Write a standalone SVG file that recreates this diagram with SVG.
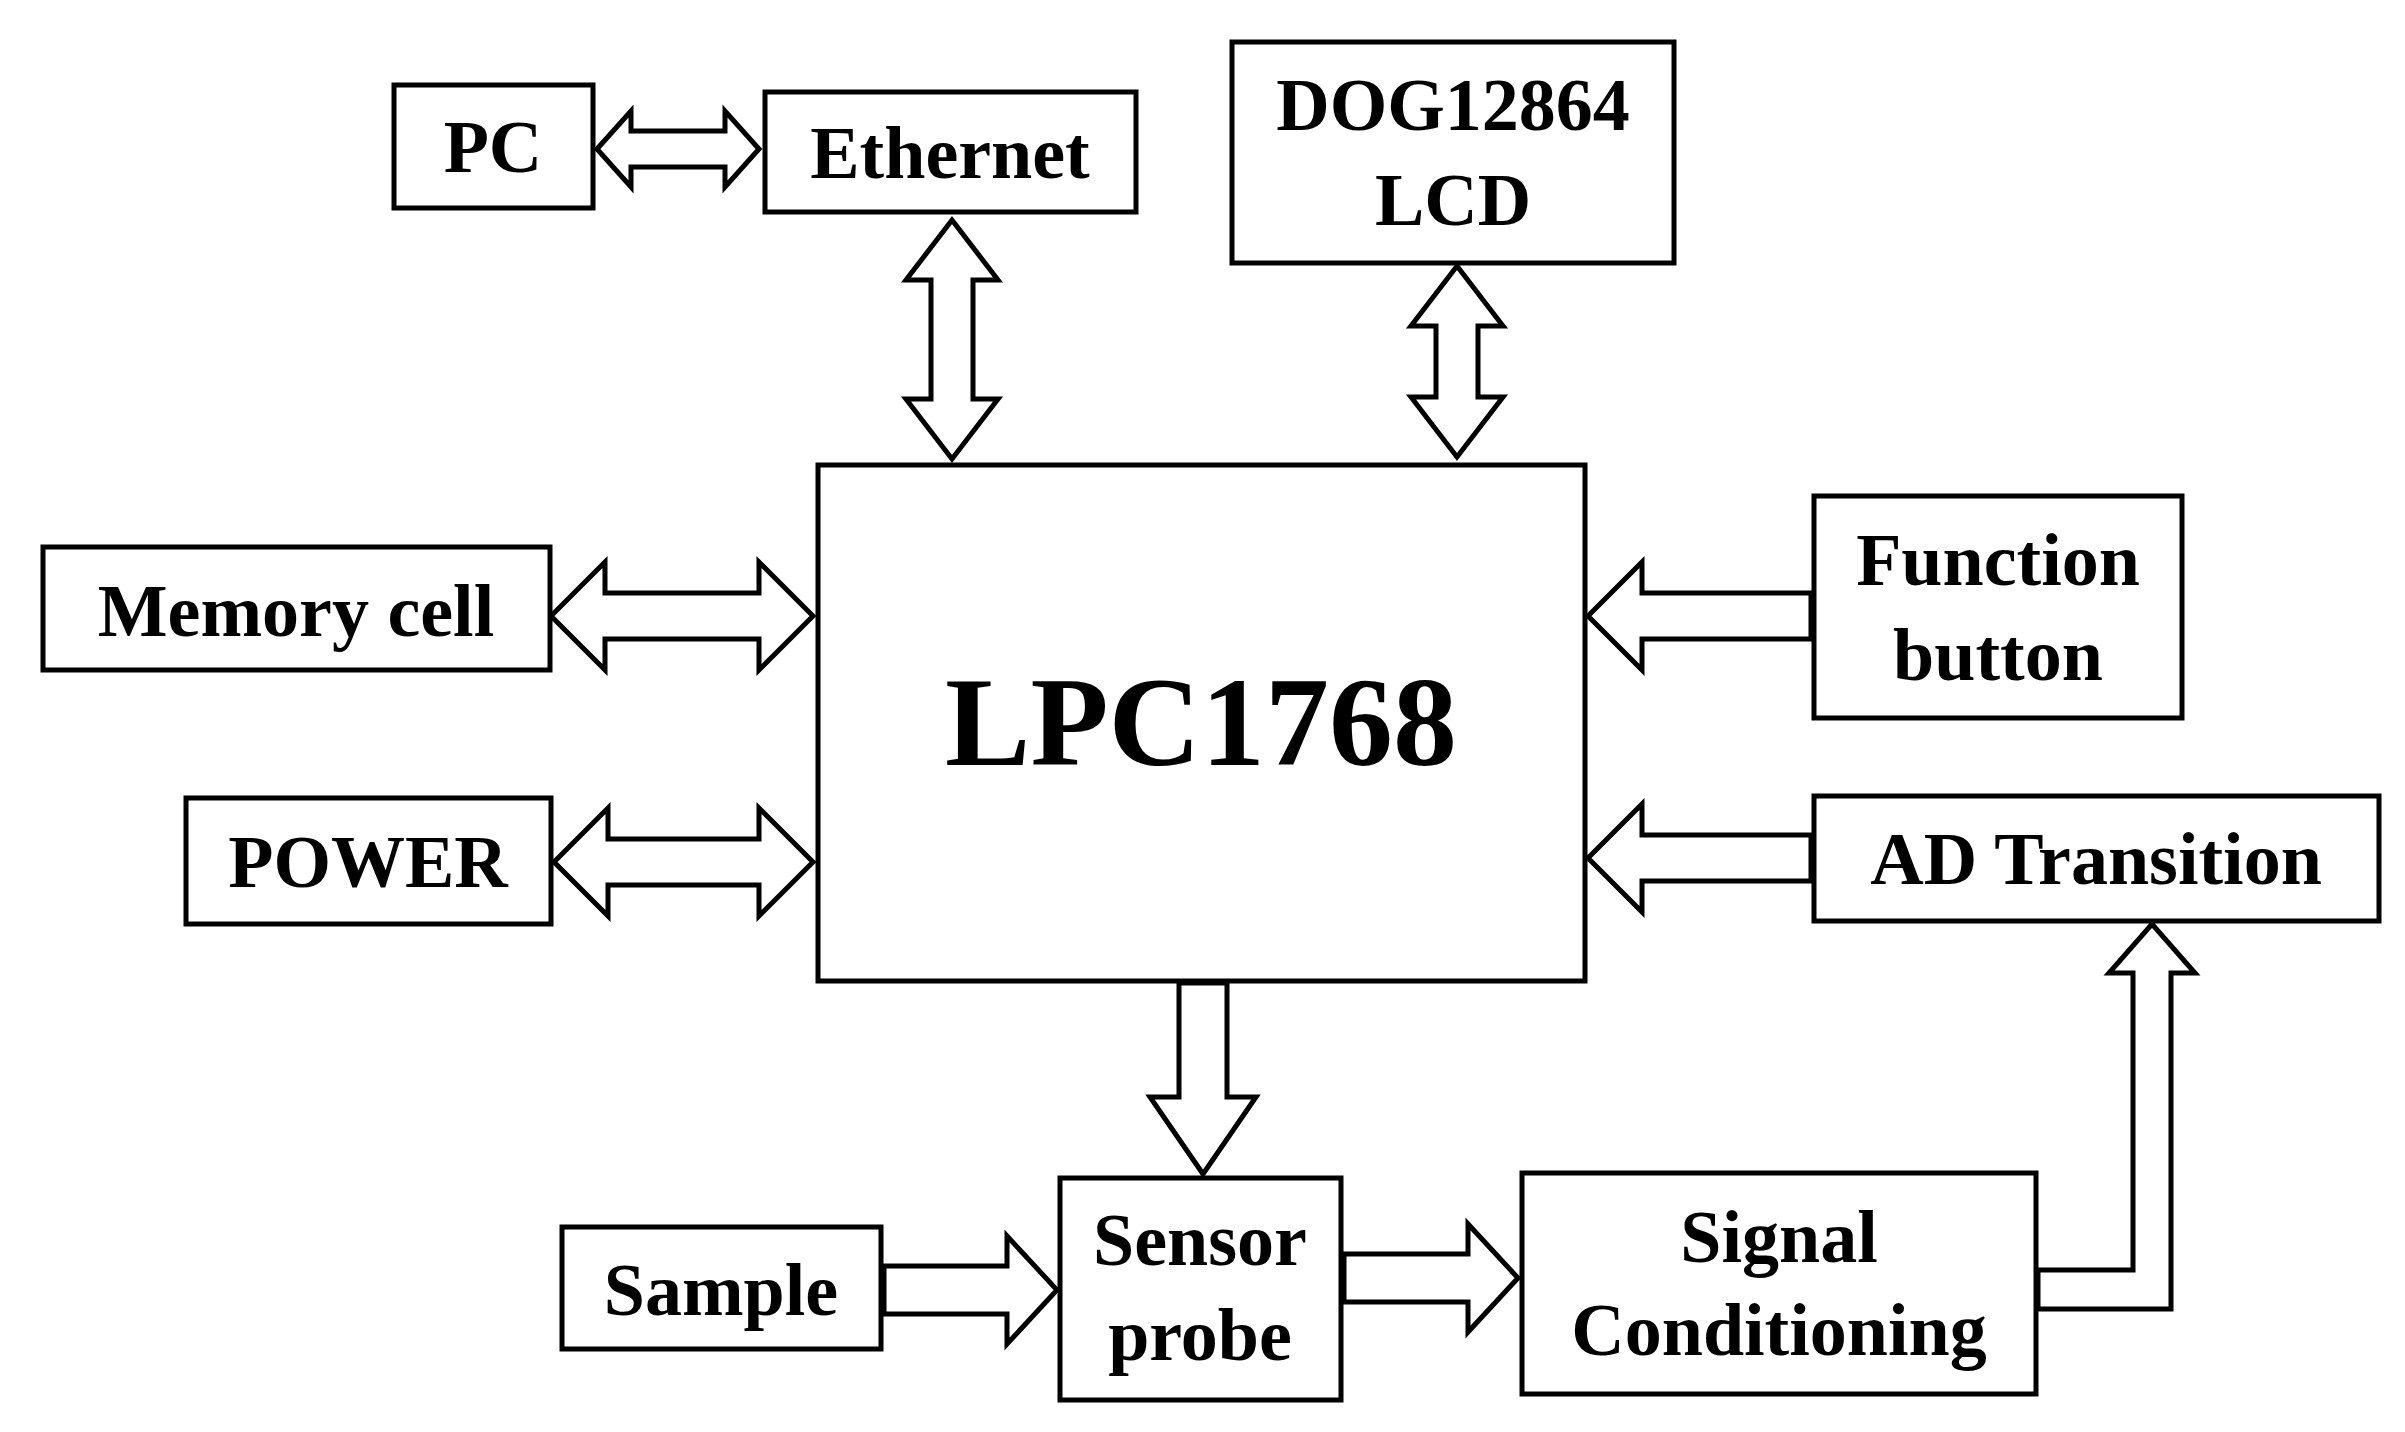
<svg xmlns="http://www.w3.org/2000/svg" width="2405" height="1432" viewBox="0 0 2405 1432">
<style>
.b{fill:#fff;stroke:#000;stroke-width:5}
.a{fill:#fff;stroke:#000;stroke-width:5;stroke-linejoin:miter}
.t{font-family:"Liberation Serif",serif;font-weight:bold;font-size:74px;text-anchor:middle;fill:#000}
</style>
<rect width="2405" height="1432" fill="#fff"/>
<g id="connectors">
<polygon class="a" points="597,149 631,111 631,131 725,131 725,111 759,149 725,187 725,167 631,167 631,187"/>
<polygon class="a" points="952,220 998,280 973,280 973,399 998,399 952,459 906,399 931,399 931,280 906,280"/>
<polygon class="a" points="1457,266 1503,326 1478,326 1478,397 1503,397 1457,457 1411,397 1436,397 1436,326 1411,326"/>
<polygon class="a" points="551,616 605,562 605,593 759,593 759,562 813,616 759,670 759,639 605,639 605,670"/>
<polygon class="a" points="554,862 608,808 608,839 759,839 759,808 813,862 759,916 759,885 608,885 608,916"/>
<polygon class="a" points="1588,616 1642,562 1642,593 1811,593 1811,639 1642,639 1642,670"/>
<polygon class="a" points="1588,858 1642,804 1642,835 1811,835 1811,881 1642,881 1642,912"/>
<polygon class="a" points="1179,983 1227,983 1227,1097 1256,1097 1203,1174 1150,1097 1179,1097"/>
<polygon class="a" points="884,1266 1007,1266 1007,1236 1057,1290 1007,1344 1007,1314 884,1314"/>
<polygon class="a" points="1344,1254 1468,1254 1468,1224 1518,1278 1468,1332 1468,1302 1344,1302"/>
<polygon class="a" points="2038,1270 2133,1270 2133,973 2109,973 2152,924 2195,973 2171,973 2171,1309 2038,1309"/>
</g>
<g id="pc"><rect class="b" x="394" y="85" width="199" height="123"/><text class="t" x="493" y="172">PC</text></g>
<g id="ethernet"><rect class="b" x="765" y="92" width="371" height="120"/><text class="t" x="950" y="178">Ethernet</text></g>
<g id="lcd"><rect class="b" x="1232" y="42" width="442" height="221"/><text class="t" x="1453" y="130">DOG12864</text><text class="t" x="1453" y="225">LCD</text></g>
<g id="lpc"><rect class="b" x="818" y="465" width="767" height="516"/><text class="t" x="1201" y="765" style="font-size:128px">LPC1768</text></g>
<g id="memory"><rect class="b" x="43" y="547" width="507" height="123"/><text class="t" x="296" y="636">Memory cell</text></g>
<g id="power"><rect class="b" x="186" y="798" width="365" height="126"/><text class="t" x="368" y="887">POWER</text></g>
<g id="function"><rect class="b" x="1814" y="496" width="368" height="222"/><text class="t" x="1998" y="585">Function</text><text class="t" x="1998" y="680">button</text></g>
<g id="ad"><rect class="b" x="1814" y="796" width="565" height="125"/><text class="t" x="2096" y="884">AD Transition</text></g>
<g id="sample"><rect class="b" x="562" y="1227" width="319" height="122"/><text class="t" x="721" y="1315">Sample</text></g>
<g id="sensor"><rect class="b" x="1060" y="1178" width="281" height="222"/><text class="t" x="1200" y="1265">Sensor</text><text class="t" x="1200" y="1360">probe</text></g>
<g id="signal"><rect class="b" x="1522" y="1173" width="514" height="221"/><text class="t" x="1779" y="1262">Signal</text><text class="t" x="1779" y="1355">Conditioning</text></g>
</svg>
